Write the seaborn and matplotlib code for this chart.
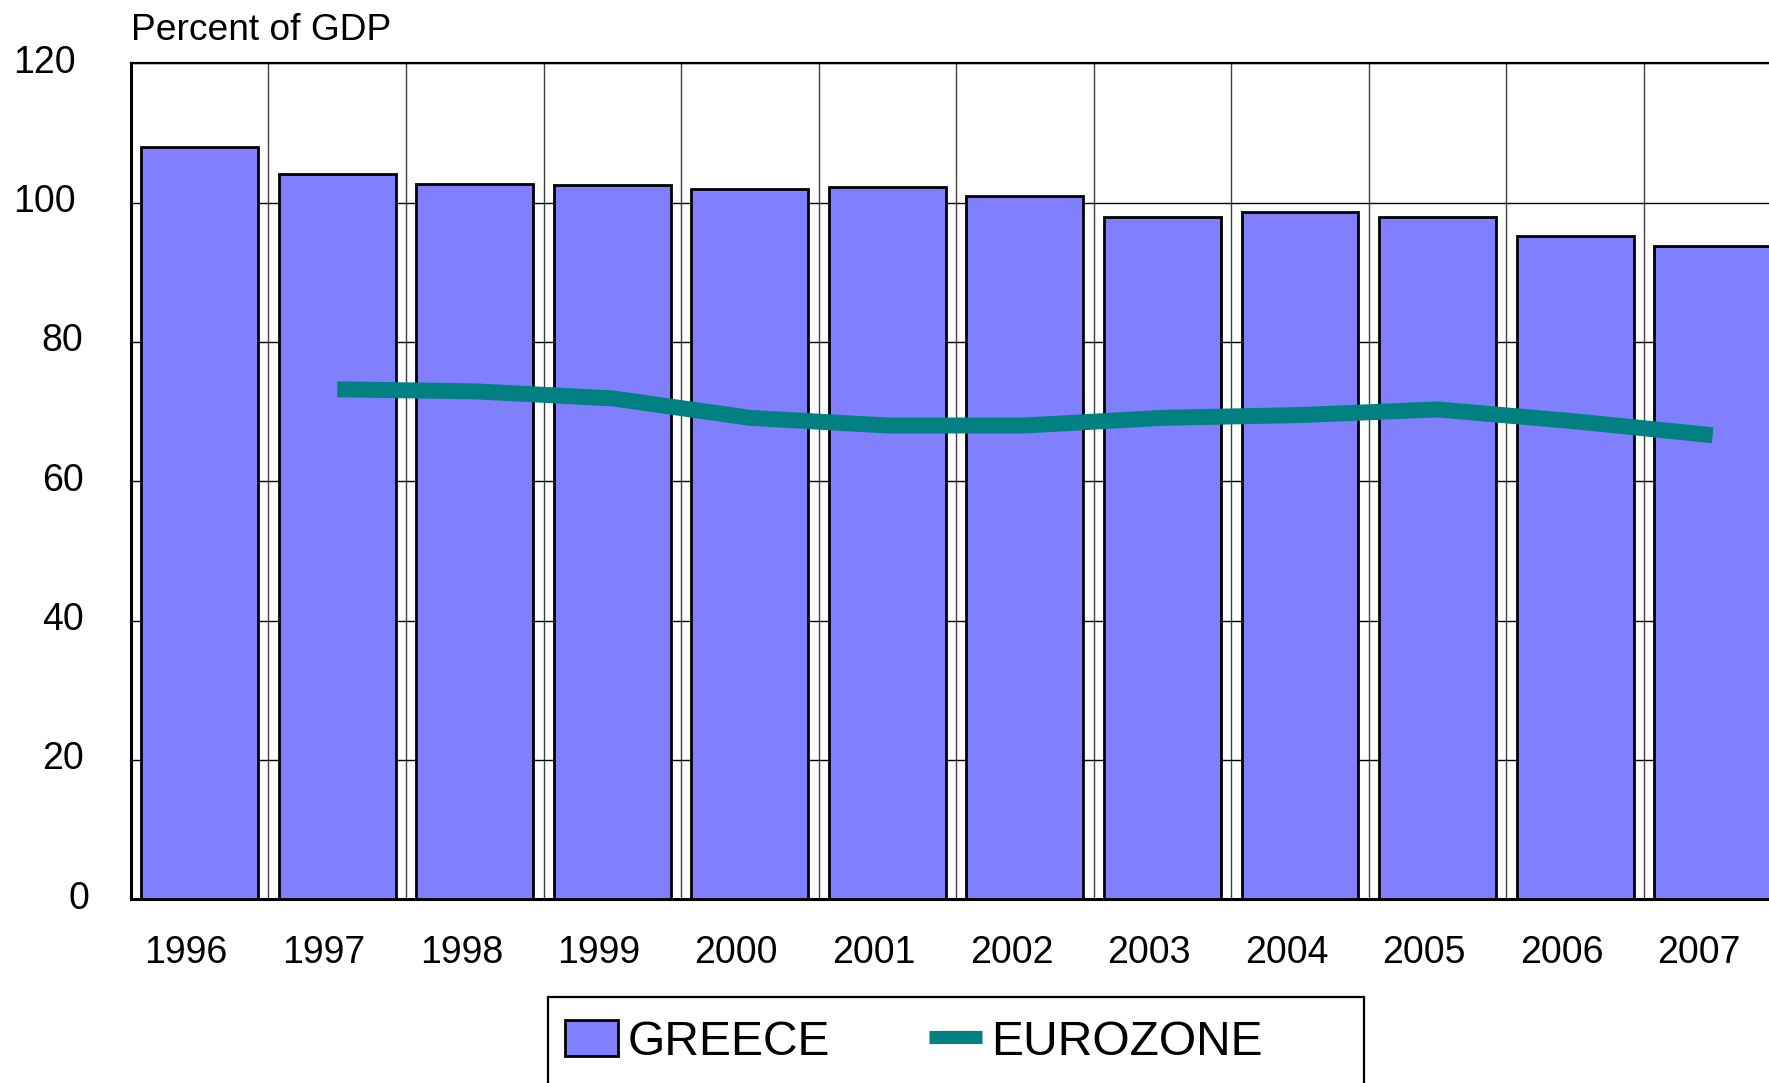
import numpy as np
import pandas as pd
import matplotlib
matplotlib.use("Agg")
import matplotlib.pyplot as plt
import matplotlib.transforms as mtransforms
import seaborn as sns
from matplotlib.patches import Patch, Rectangle
from matplotlib.lines import Line2D

years = ["1996", "1997", "1998", "1999", "2000", "2001", "2002", "2003", "2004", "2005", "2006", "2007"]
greece = [108.0, 104.1, 102.7, 102.5, 101.9, 102.2, 100.9, 98.0, 98.6, 98.0, 95.2, 93.8]
eurozone_years = ["1997", "1998", "1999", "2000", "2001", "2002", "2003", "2004", "2005", "2006", "2007"]
eurozone = [73.2, 72.9, 71.9, 69.1, 68.0, 68.0, 69.1, 69.5, 70.3, 68.6, 66.6]
y_ticks = [0, 20, 40, 60, 80, 100, 120]

BAR = "#8080FF"
TEAL = "#008080"

sns.set_theme(style="white")
plt.rcParams["font.family"] = ["Liberation Sans", "DejaVu Sans"]

fig = plt.figure(figsize=(17.69, 10.83), dpi=100)
ax = fig.add_axes([0.074, 0.1697, 0.933, 0.7719])

df = pd.DataFrame({"year": years, "value": greece})
sns.barplot(data=df, x="year", y="value", color=BAR, saturation=1, width=0.85,
            edgecolor="black", linewidth=2, ax=ax, zorder=2)

pos = {y: i for i, y in enumerate(years)}
ez = pd.DataFrame({"x": [pos[y] for y in eurozone_years], "value": eurozone})
sns.lineplot(data=ez, x="x", y="value", color=TEAL, linewidth=11.5, ax=ax,
             zorder=3, solid_capstyle="butt", solid_joinstyle="round")

ax.set_xlim(-0.5, len(years) - 0.5)
ax.set_ylim(0, 120)
ax.set_yticks(y_ticks)
ax.set_yticklabels([str(t) for t in y_ticks])
ax.set_xticks(range(len(years)))
ax.set_xticklabels(years)
ax.set_xticks(np.arange(len(years) - 1) + 0.5, minor=True)
ax.set_xlabel("")
ax.set_ylabel("")

ax.set_axisbelow(True)
ax.grid(False)
ax.yaxis.grid(True, color="black", linewidth=1)
ax.xaxis.grid(True, which="minor", color="#404040", linewidth=1)

ax.tick_params(axis="y", which="both", length=0, pad=40, labelsize=27, labelcolor="black")
ax.tick_params(axis="x", which="both", length=0, pad=26, labelsize=27, labelcolor="black")

xoff = mtransforms.ScaledTranslation(-9.7 / 72, 0, fig.dpi_scale_trans)
for lab in ax.get_xticklabels():
    lab.set_transform(lab.get_transform() + xoff)
# right edges of the y labels step right as the labels get shorter
shift_pt = {3: 0.0, 2: 5.8, 1: 10.0}
for lab in ax.get_yticklabels():
    n = len(lab.get_text())
    off = mtransforms.ScaledTranslation(shift_pt.get(n, 0.0) / 72, 3.2 / 72, fig.dpi_scale_trans)
    lab.set_transform(lab.get_transform() + off)

for side in ["left", "bottom", "top", "right"]:
    ax.spines[side].set_visible(True)
    ax.spines[side].set_color("black")
ax.spines["left"].set_linewidth(2.2)
ax.spines["bottom"].set_linewidth(2.2)
ax.spines["top"].set_linewidth(1.6)
ax.spines["right"].set_linewidth(1.6)

fig.text(0.074, 0.9635, "Percent of GDP", fontsize=26.7, va="baseline", ha="left", color="black")

handles = [
    Patch(facecolor=BAR, edgecolor="black", linewidth=2),
    Line2D([0], [0], color=TEAL, linewidth=9.5, solid_capstyle="butt"),
]
leg = fig.legend(handles, ["GREECE", "EUROZONE"], loc="center left",
                 bbox_to_anchor=(0.3194, 0.0375), ncol=2, frameon=False,
                 fontsize=34.6, handlelength=1.11, handleheight=0.79,
                 handletextpad=0.19, columnspacing=2.05, borderpad=0,
                 borderaxespad=0, labelcolor="black")

fig.patches.append(Rectangle((0.3098, -0.05), 0.4613, 0.1294, transform=fig.transFigure,
                             fill=False, edgecolor="black", linewidth=1.6, zorder=5))

fig.savefig("out.png", dpi=100)
